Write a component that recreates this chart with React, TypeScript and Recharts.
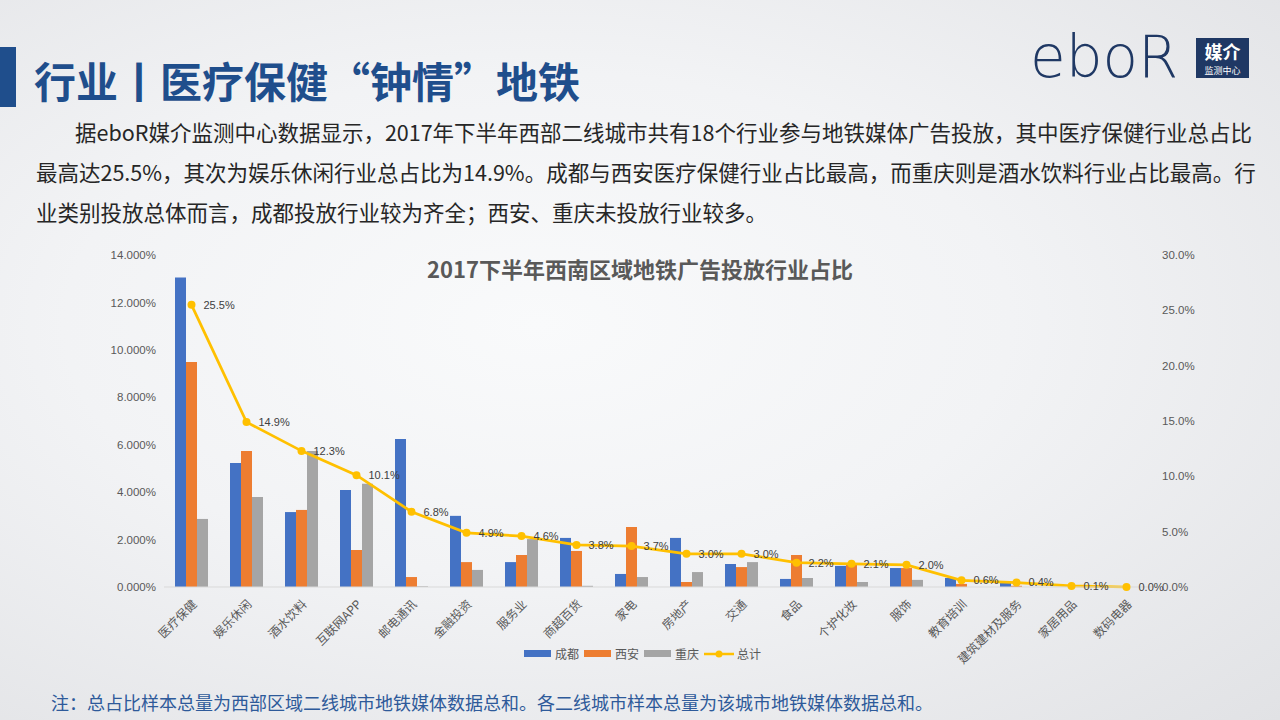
import React from 'react'
import { ComposedChart, Bar, Line, XAxis, YAxis, Legend, LabelList } from 'recharts'

// categories + per-city shares (%)
const categories = [
  '医疗保健', '娱乐休闲', '酒水饮料', '互联网APP', '邮电通讯', '金融投资', '服务业', '商超百货', '家电',
  '房地产', '交通', '食品', '个护化妆', '服饰', '教育培训', '建筑建材及服务', '家居用品', '数码电器',
]
const chengdu = [13.05, 5.23, 3.16, 4.09, 6.24, 3.0, 1.05, 2.07, 0.55, 2.07, 0.97, 0.34, 0.89, 0.8, 0.38, 0.22, 0, 0]
const xian = [9.49, 5.74, 3.25, 1.56, 0.42, 1.05, 1.35, 1.52, 2.53, 0.21, 0.84, 1.35, 0.93, 0.8, 0.13, 0.05, 0, 0]
const chongqing = [2.87, 3.8, 5.74, 4.35, 0.03, 0.72, 2.02, 0.05, 0.42, 0.63, 1.05, 0.38, 0.21, 0.3, 0, 0, 0, 0]
const total = [25.5, 14.9, 12.3, 10.1, 6.8, 4.9, 4.6, 3.8, 3.7, 3.0, 3.0, 2.2, 2.1, 2.0, 0.6, 0.4, 0.1, 0.0]

const seriesOrder = ['成都', '西安', '重庆', '总计']
const leftTicks = [0, 2, 4, 6, 8, 10, 12, 14]
const rightTicks = [0, 5, 10, 15, 20, 25, 30]

const data = categories.map((name, i) => ({
  name,
  成都: chengdu[i],
  西安: xian[i],
  重庆: chongqing[i],
  总计: total[i],
}))

const CJK = '"Noto Sans CJK SC", "Microsoft YaHei", sans-serif'
const AXIS_FONT = '"Liberation Sans", Arial, sans-serif'

const CategoryTick = (props: any) => {
  const { x, y, payload } = props
  const ax = x + 6
  const ay = y + 10
  return (
    <text
      x={ax}
      y={ay}
      transform={`rotate(-45 ${ax} ${ay})`}
      textAnchor="end"
      fontSize={12}
      fontFamily={CJK}
      fill="#595959"
    >
      {payload.value}
    </text>
  )
}

const renderLegend = (props: any) => {
  const items = [...(props.payload || [])].sort(
    (a: any, b: any) => seriesOrder.indexOf(a.value) - seriesOrder.indexOf(b.value)
  )
  return (
    <div style={{ display: 'flex', alignItems: 'center', fontFamily: CJK, fontSize: 12, color: '#595959' }}>
      {items.map((it: any) => (
        <div key={it.value} style={{ display: 'flex', alignItems: 'center', marginRight: 5 }}>
          {it.type === 'line' ? (
            <svg width={30} height={10} style={{ marginRight: 3 }}>
              <line x1={0} y1={5} x2={30} y2={5} stroke={it.color} strokeWidth={2.5} />
              <circle cx={15} cy={5} r={3.5} fill={it.color} />
            </svg>
          ) : (
            <span style={{ display: 'inline-block', width: 27, height: 7, background: it.color, marginRight: 4 }} />
          )}
          <span>{it.value}</span>
        </div>
      ))}
    </div>
  )
}

const App = () => {
  return (
    <div
      style={{
        position: 'absolute',
        left: 0,
        top: 0,
        width: 1280,
        height: 720,
        overflow: 'hidden',
        background: 'radial-gradient(ellipse at 42% 45%, #f9fafb 0%, #f2f3f5 45%, #e1e2e5 100%)',
        fontFamily: CJK,
      }}
    >
      {/* header */}
      <div style={{ position: 'absolute', left: 0, top: 47, width: 16, height: 60, background: '#1f4e8c' }} />
      <div
        style={{
          position: 'absolute',
          left: 34,
          top: 50,
          fontSize: 42,
          fontWeight: 700,
          color: '#1f4e8c',
          lineHeight: '60px',
          whiteSpace: 'nowrap',
        }}
      >
        行业丨医疗保健“钟情”地铁
      </div>

      {/* logo */}
      <div
        style={{
          position: 'absolute',
          left: 1030,
          top: 24,
          fontFamily: '"DejaVu Sans", sans-serif',
          fontWeight: 200,
          fontSize: 58,
          lineHeight: '66px',
          color: '#1f3864',
        }}
      >
        eboR
      </div>
      <div
        style={{
          position: 'absolute',
          left: 1196,
          top: 38,
          width: 53,
          height: 40,
          background: '#1f3864',
          color: '#fff',
          textAlign: 'center',
        }}
      >
        <div style={{ fontSize: 18, fontWeight: 700, lineHeight: '26px' }}>媒介</div>
        <div style={{ fontSize: 9, lineHeight: '13px' }}>监测中心</div>
      </div>

      {/* paragraph */}
      <div
        style={{
          position: 'absolute',
          left: 36,
          top: 112,
          fontSize: 21.5,
          lineHeight: '40px',
          color: '#262626',
          whiteSpace: 'nowrap',
        }}
      >
        <div style={{ paddingLeft: 39 }}>
          据eboR媒介监测中心数据显示，2017年下半年西部二线城市共有18个行业参与地铁媒体广告投放，其中医疗保健行业总占比
        </div>
        <div>最高达25.5%，其次为娱乐休闲行业总占比为14.9%。成都与西安医疗保健行业占比最高，而重庆则是酒水饮料行业占比最高。行</div>
        <div>业类别投放总体而言，成都投放行业较为齐全；西安、重庆未投放行业较多。</div>
      </div>

      {/* chart title */}
      <div
        style={{
          position: 'absolute',
          left: 0,
          width: 1280,
          top: 253,
          textAlign: 'center',
          fontSize: 22,
          fontWeight: 700,
          color: '#595959',
          lineHeight: '30px',
        }}
      >
        2017下半年西南区域地铁广告投放行业占比
      </div>

      {/* chart */}
      <div style={{ position: 'absolute', left: 100, top: 240 }}>
        <ComposedChart
          width={1100}
          height={460}
          data={data}
          margin={{ top: 15, right: 0, bottom: 0, left: 0 }}
          barCategoryGap="20%"
          barGap={0}
        >
          <XAxis
            dataKey="name"
            interval={0}
            height={113}
            tickLine={false}
            axisLine={{ stroke: '#d9d9d9' }}
            tick={<CategoryTick />}
          />
          <YAxis
            yAxisId="left"
            orientation="left"
            width={64}
            domain={[0, 14]}
            ticks={leftTicks}
            axisLine={false}
            tickLine={false}
            tickFormatter={(v: number) => `${v.toFixed(3)}%`}
            tick={{ fontSize: 11.5, fill: '#595959', fontFamily: AXIS_FONT }}
          />
          <YAxis
            yAxisId="right"
            orientation="right"
            width={46}
            domain={[0, 30]}
            ticks={rightTicks}
            axisLine={false}
            tickLine={false}
            tickFormatter={(v: number) => `${v.toFixed(1)}%`}
            tick={{ fontSize: 11.5, fill: '#595959', fontFamily: AXIS_FONT }}
          />
          <Legend
            verticalAlign="middle"
            align="center"
            layout="horizontal"
            content={renderLegend}
            wrapperStyle={{ left: 424, top: 405, width: 'auto', height: 'auto' }}
          />
          <Bar yAxisId="left" dataKey="成都" fill="#4472c4" isAnimationActive={false} />
          <Bar yAxisId="left" dataKey="西安" fill="#ed7d31" isAnimationActive={false} />
          <Bar yAxisId="left" dataKey="重庆" fill="#a5a5a5" isAnimationActive={false} />
          <Line
            yAxisId="right"
            dataKey="总计"
            stroke="#ffc000"
            strokeWidth={2.75}
            dot={{ r: 4, fill: '#ffc000', stroke: '#ffc000', strokeWidth: 0 }}
            isAnimationActive={false}
          >
            <LabelList
              dataKey="总计"
              position="right"
              offset={12}
              formatter={(v: any) => `${Number(v).toFixed(1)}%`}
              style={{ fontSize: 11, fill: '#404040', fontFamily: AXIS_FONT }}
            />
          </Line>
        </ComposedChart>
      </div>

      {/* footnote */}
      <div
        style={{
          position: 'absolute',
          left: 51,
          top: 688,
          fontSize: 18,
          lineHeight: '28px',
          color: '#2e5a9a',
          whiteSpace: 'nowrap',
        }}
      >
        注：总占比样本总量为西部区域二线城市地铁媒体数据总和。各二线城市样本总量为该城市地铁媒体数据总和。
      </div>
    </div>
  )
}

export default App
